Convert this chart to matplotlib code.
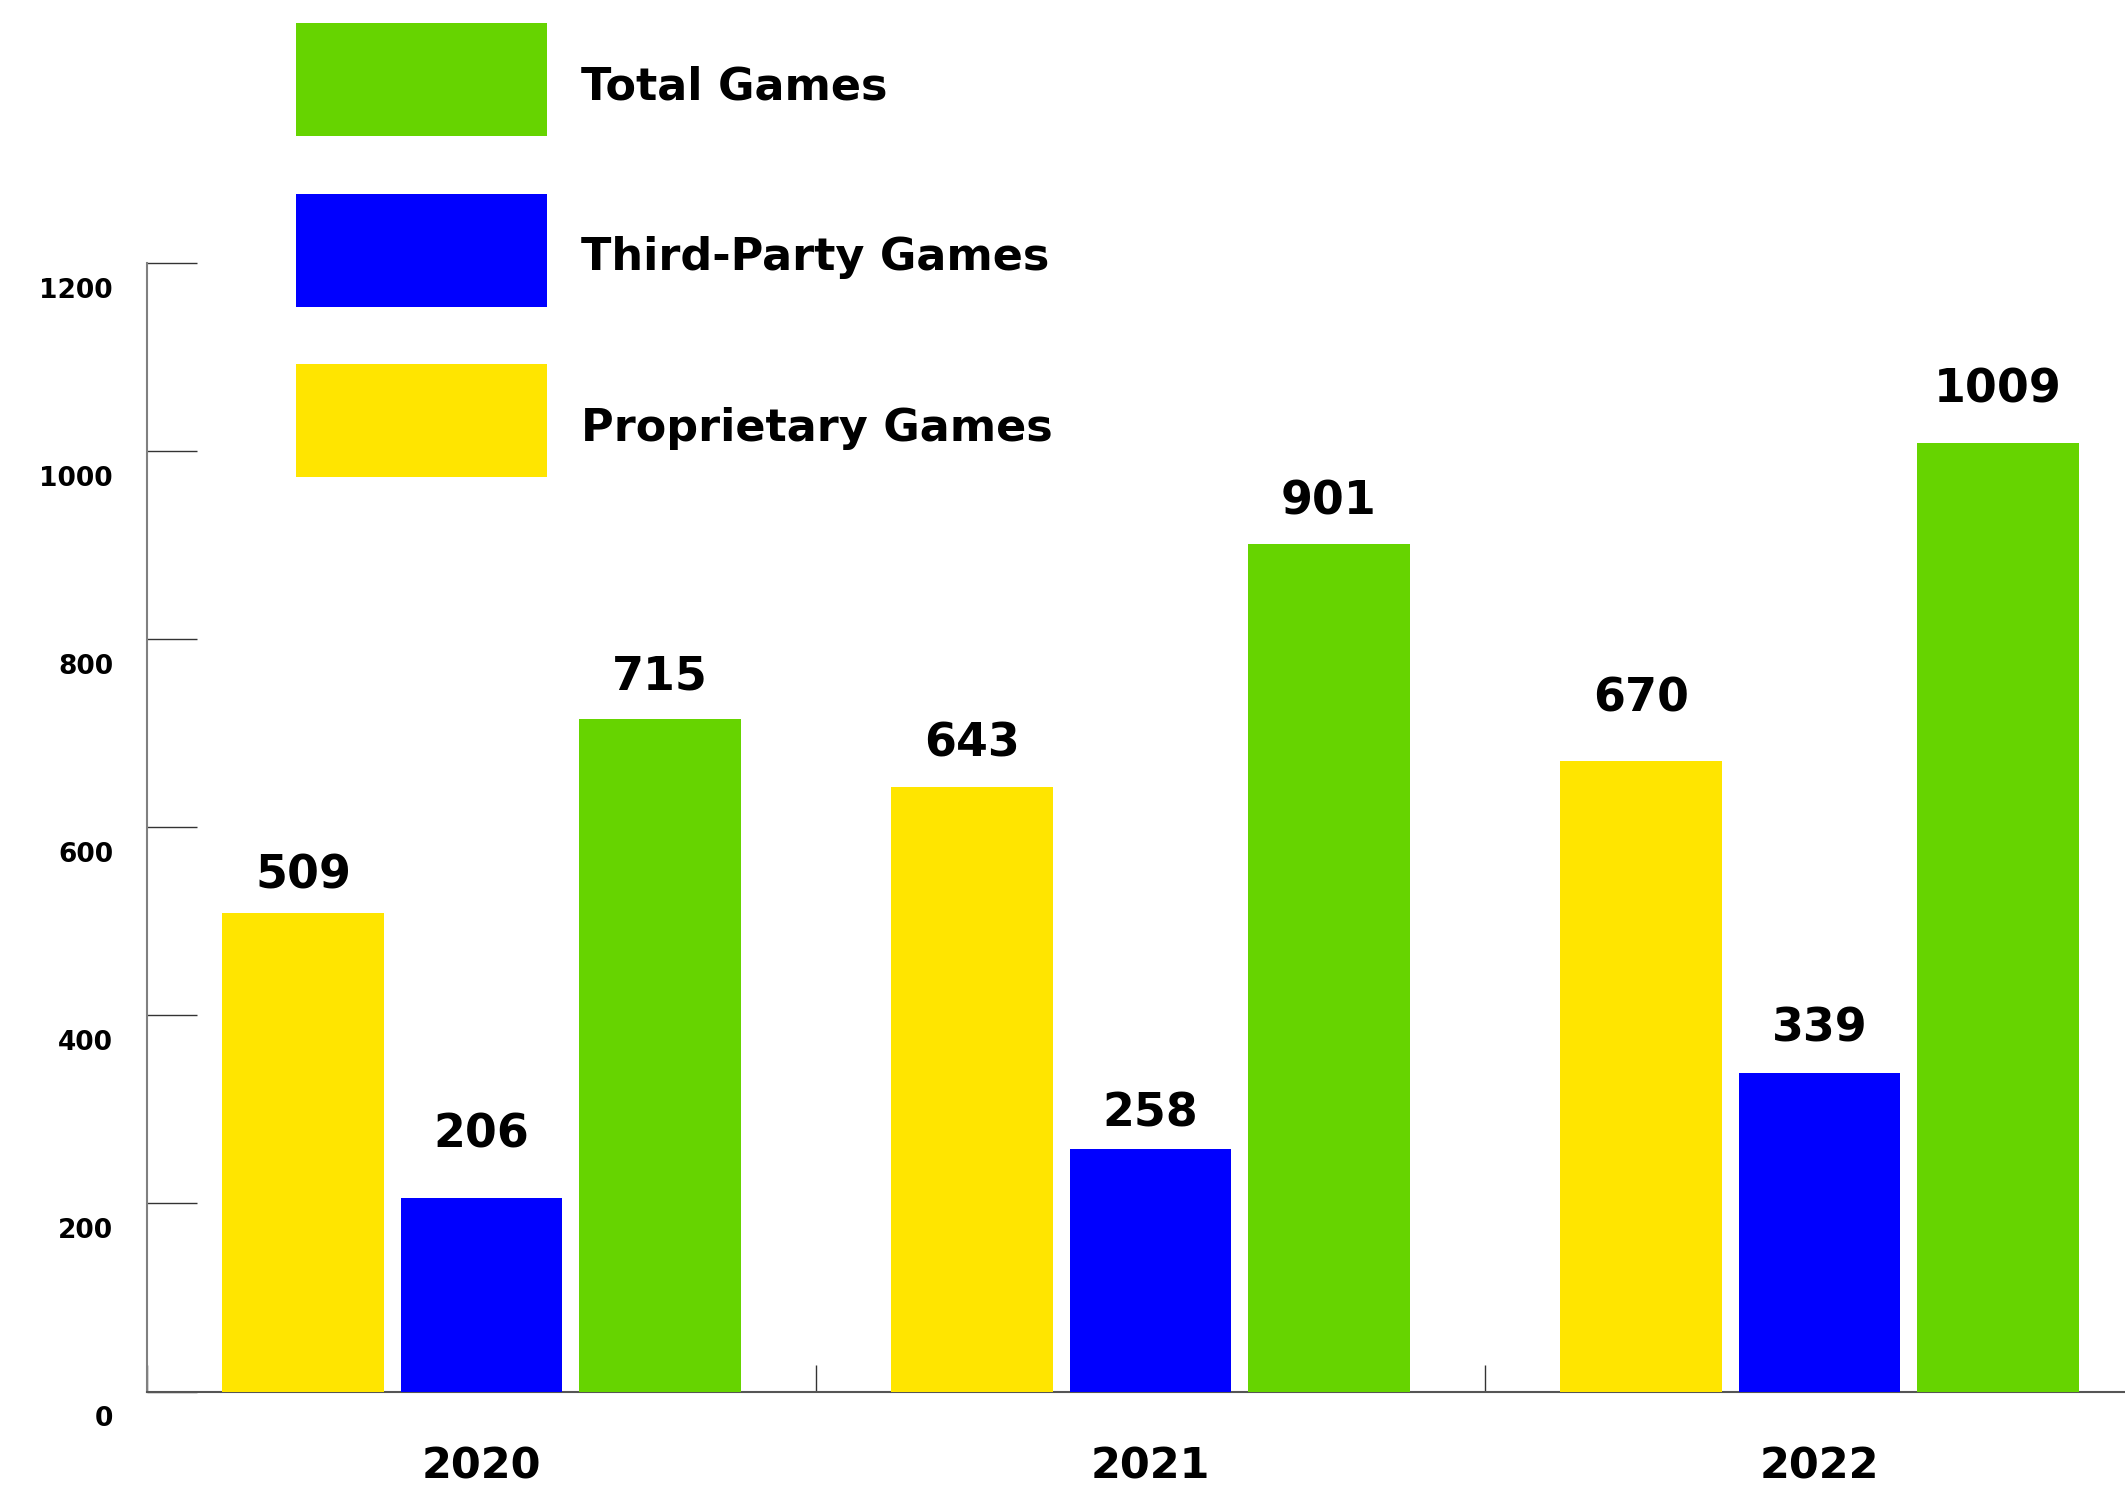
import matplotlib
matplotlib.use("Agg")
import matplotlib.pyplot as plt
import matplotlib.transforms as mtransforms
import numpy as np

years = ["2020", "2021", "2022"]
proprietary = [509, 643, 670]
third_party = [206, 258, 339]
total = [715, 901, 1009]
y_ticks = [0, 200, 400, 600, 800, 1000, 1200]

plt.rcParams['font.family'] = ['DejaVu Sans']

W, H = 2125, 1490
fig = plt.figure(figsize=(W / 100, H / 100), dpi=100)
# axes run a little past the right edge of the figure
ax = fig.add_axes([147 / W, 98.5 / H, 2007 / W, 1128.5 / H])

x = np.arange(len(years))
bar_w = 0.2414
step = 0.2668

series = [
    ("Proprietary Games", proprietary, "#ffe500", [24, 30, 50]),
    ("Third-Party Games", third_party, "#0000ff", [50, 22, 31]),
    ("Total Games", total, "#66d400", [30, 30, 40]),
]

bars = {}
for i, (name, vals, color, gaps) in enumerate(series):
    xs = x + (i - 1) * step
    bars[name] = ax.bar(xs, vals, bar_w, color=color, label=name, zorder=3)
    for xi, v, g in zip(xs, vals, gaps):
        # g is the gap in pixels between the number and the bar top
        ax.annotate(str(v), (xi, v), xytext=(0, g * 0.72), textcoords='offset points',
                    ha='center', va='baseline', fontsize=33, fontweight='bold',
                    annotation_clip=False)

ax.set_xlim(-0.5, 2.5)
ax.set_ylim(0, 1200)

# y axis: ticks point inwards, labels sit below each tick
ax.set_yticks(y_ticks)
ax.set_yticklabels([])
ax.tick_params(axis='y', direction='in', length=36, width=1, color='#333333')
shift = mtransforms.ScaledTranslation(-0.34, -0.35, fig.dpi_scale_trans)
for t in y_ticks:
    ax.text(0, t, str(t), transform=ax.get_yaxis_transform() + shift,
            ha='right', va='baseline', fontsize=19, fontweight='bold')

ax.set_xticks(x)
ax.set_xticklabels(years, fontsize=31, fontweight='bold')
ax.tick_params(axis='x', which='major', length=0, pad=39)
ax.set_xticks([-0.5, 0.5, 1.5, 2.5], minor=True)
ax.tick_params(axis='x', which='minor', direction='in', length=19.5, width=1, color='#333333')

for side in ['top', 'right']:
    ax.spines[side].set_visible(False)
ax.spines['left'].set_color('#808080')
ax.spines['left'].set_linewidth(1.5)
ax.spines['bottom'].set_color('#555555')
ax.spines['bottom'].set_linewidth(1.5)

# legend swatches: 251 x 113 px, 57.5 px apart
handles = [bars["Total Games"], bars["Third-Party Games"], bars["Proprietary Games"]]
labels = ["Total Games", "Third-Party Games", "Proprietary Games"]
fs_px = 32 * 100 / 72
leg = ax.legend(handles, labels, loc='upper left', bbox_to_anchor=(296 / W, 1 - 23 / H),
                bbox_transform=fig.transFigure, frameon=False, borderpad=0, borderaxespad=0,
                prop={'size': 32, 'weight': 'bold'},
                handlelength=251 / fs_px, handleheight=(113 / fs_px - 0.245) / 0.65,
                labelspacing=57.5 / fs_px, handletextpad=34 / fs_px)
# nudge legend labels down a little
down = mtransforms.ScaledTranslation(0, -0.08, fig.dpi_scale_trans)
for txt in leg.get_texts():
    txt.set_transform(txt.get_transform() + down)

fig.savefig('out.png', dpi=100)
